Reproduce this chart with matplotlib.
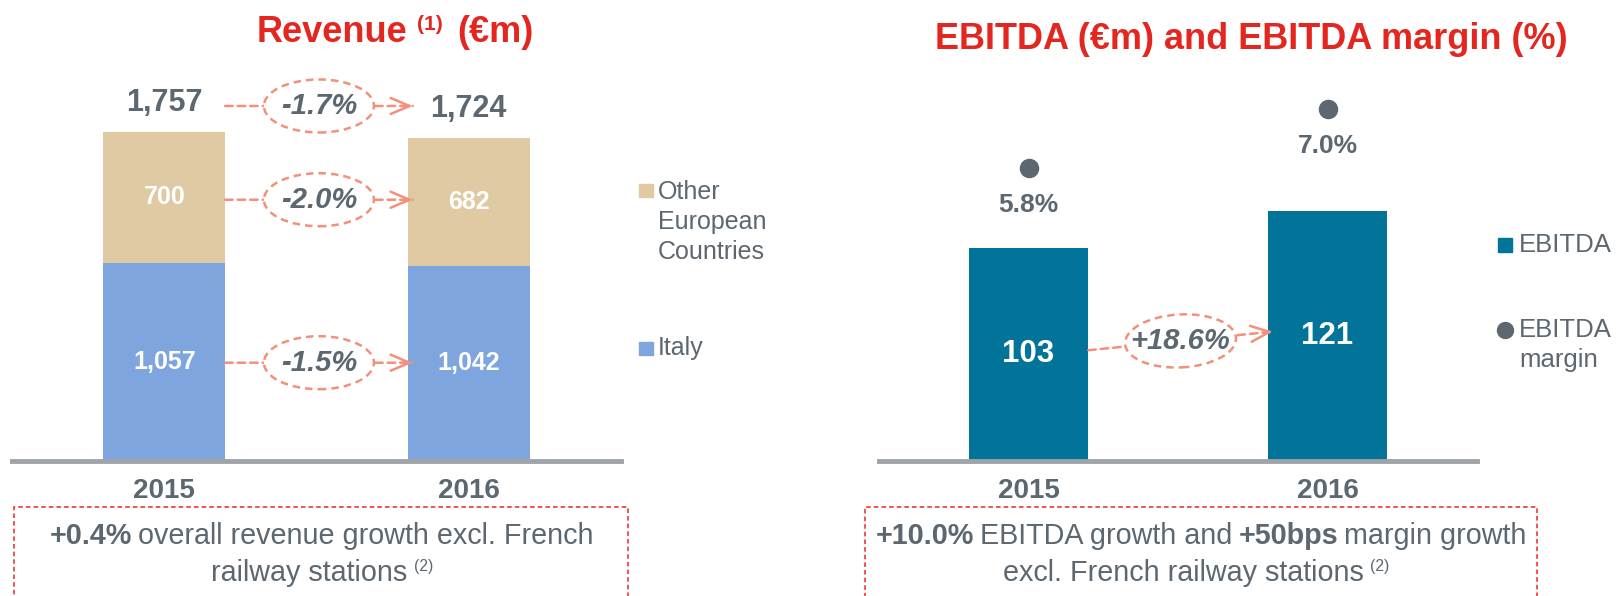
import matplotlib
matplotlib.use("Agg")
from matplotlib import pyplot as plt
from matplotlib.patches import Rectangle, Ellipse
from matplotlib.lines import Line2D
from matplotlib.transforms import ScaledTranslation

# datos
years = ["2015", "2016"]
italy = [1057, 1042]
other_eu = [700, 682]
revenue_total = [1757, 1724]
growth_total = "-1.7%"
growth_other = "-2.0%"
growth_italy = "-1.5%"
ebitda = [103, 121]
ebitda_margin = [5.8, 7.0]
growth_ebitda = "+18.6%"

W, H = 1617, 596

RED = "#E3261F"
GRAY = "#5C6770"
AXGRAY = "#A0A3A7"
BEIGE = "#DFCAA3"
BLUE = "#7EA5DE"
TEAL = "#037499"
SALMON = "#F3907A"
FONT = "Liberation Sans"


def px(x, y):
    return x / W, 1 - y / H


fig = plt.figure(figsize=(W / 100, H / 100), dpi=100)
renderer = fig.canvas.get_renderer()


def rich_line(runs, cx, base_y):
    # runs: (texto, kwargs, gap en px antes, subida en px)
    arts = []
    for s, kw, gap, rise in runs:
        t = fig.text(0, 0, s, va="baseline", ha="left", family=FONT, **kw)
        arts.append((t, gap, rise))
    total = sum(t.get_window_extent(renderer).width + g for t, g, _ in arts)
    x = cx - total / 2
    for t, gap, rise in arts:
        x += gap
        t.set_position(px(x, base_y - rise))
        x += t.get_window_extent(renderer).width


def style_axis(ax):
    for s in ["top", "left", "right"]:
        ax.spines[s].set_visible(False)
    ax.spines["bottom"].set_color(AXGRAY)
    ax.spines["bottom"].set_linewidth(3.5)
    ax.set_yticks([])
    ax.set_xlim(-0.5, 1.5)
    ax.set_xticks(range(len(years)), years)
    ax.tick_params(axis="x", length=0, pad=12)
    for lbl in ax.get_xticklabels():
        lbl.set_fontsize(20)
        lbl.set_fontweight("bold")
        lbl.set_color(GRAY)
        lbl.set_family(FONT)


def growth_arrow(ax, p1, p2, label, ew=110, eh=53, ang=0):
    dash = (0, (3, 2))
    ax.annotate("", xy=p2, xytext=p1,
                arrowprops=dict(arrowstyle="-", color=SALMON, lw=1.8, ls=dash,
                                shrinkA=0, shrinkB=0), zorder=4)
    t = 0.95
    pre = (p1[0] + (p2[0] - p1[0]) * t, p1[1] + (p2[1] - p1[1]) * t)
    ax.annotate("", xy=p2, xytext=pre,
                arrowprops=dict(arrowstyle="->,head_length=0.4,head_width=0.17",
                                color=SALMON, lw=1.8, mutation_scale=34,
                                shrinkA=0, shrinkB=0), zorder=4)
    cx = (p1[0] + p2[0]) / 2
    cy = (p1[1] + p2[1]) / 2
    e = Ellipse((0, 0), ew / 100, eh / 100, angle=ang,
                transform=fig.dpi_scale_trans + ScaledTranslation(cx, cy, ax.transData),
                fc="white", ec=SALMON, lw=1.8, ls=dash, zorder=5)
    ax.add_artist(e)
    ax.text(cx, cy, label, ha="center", va="center", fontsize=21,
            fontweight="bold", fontstyle="italic", color=GRAY, family=FONT, zorder=6)


# ---------------- Revenue ----------------
ax1 = fig.add_axes([12 / W, (H - 461) / H, 609 / W, 401 / H])
x = range(len(years))
ax1.bar(x, italy, width=0.4, color=BLUE)
ax1.bar(x, other_eu, width=0.4, bottom=italy, color=BEIGE)
ax1.set_ylim(0, 2141)
style_axis(ax1)

for i in x:
    ax1.text(i, italy[i] / 2, f"{italy[i]:,}", ha="center", va="center",
             fontsize=18, fontweight="bold", color="white", family=FONT)
    ax1.text(i, italy[i] + other_eu[i] / 2, f"{other_eu[i]:,}", ha="center",
             va="center", fontsize=18, fontweight="bold", color="white", family=FONT)
    ax1.text(i, revenue_total[i] + 155, f"{revenue_total[i]:,}", ha="center",
             va="center", fontsize=22, fontweight="bold", color=GRAY, family=FONT)

y_tot = sum(revenue_total) / 2 + 155
y_oth = sum(italy[i] + other_eu[i] / 2 for i in x) / 2
y_ita = sum(v / 2 for v in italy) / 2
for yy, lab in [(y_tot, growth_total), (y_oth, growth_other), (y_ita, growth_italy)]:
    growth_arrow(ax1, (0.2, yy), (0.816, yy), lab)

# leyenda izquierda
fig.add_artist(Rectangle(px(639, 197), 14 / W, 13 / H, color=BEIGE, transform=fig.transFigure))
fig.add_artist(Rectangle(px(639, 355), 14 / W, 13 / H, color=BLUE, transform=fig.transFigure))
for yy, s in [(192, "Other"), (222, "European"), (252, "Countries"), (348, "Italy")]:
    fig.text(*px(658, yy), s, ha="left", va="center", fontsize=18, color=GRAY, family=FONT)

# titulo izquierdo
rich_line([("Revenue", dict(fontsize=26, fontweight="bold", color=RED), 0, 0),
           ("(1)", dict(fontsize=15, fontweight="bold", color=RED), 10, 12),
           ("(€m)", dict(fontsize=26, fontweight="bold", color=RED), 14, 0)],
          395, 42)

# ---------------- EBITDA ----------------
ax2 = fig.add_axes([879 / W, (H - 461) / H, 598 / W, 401 / H])
ax2.bar(x, ebitda, width=0.4, color=TEAL)
ax2.set_ylim(0, 193.7)
style_axis(ax2)
for i in x:
    ax2.text(i, ebitda[i] / 2, f"{ebitda[i]}", ha="center", va="center",
             fontsize=22.5, fontweight="bold", color="white", family=FONT)

ax2m = ax2.twinx()
ax2m.set_ylim(-0.163, 7.987)
ax2m.axis("off")
ax2m.scatter(x, ebitda_margin, s=170, color=GRAY, zorder=3)
for i in x:
    ax2m.text(i, ebitda_margin[i] - 0.77, f"{ebitda_margin[i]:.1f}%", ha="center",
              va="center", fontsize=19, fontweight="bold", color=GRAY, family=FONT)

growth_arrow(ax2, (0.2, ebitda[0] / 2 + 2), (0.817, ebitda[1] / 2 + 2), growth_ebitda,
             ew=111, eh=53, ang=3)

# leyenda derecha
fig.add_artist(Rectangle(px(1498, 252), 14 / W, 14 / H, color=TEAL, transform=fig.transFigure))
fig.add_artist(Line2D([1505 / W], [1 - 330 / H], marker="o", markersize=11.5, color=GRAY,
                      transform=fig.transFigure))
for yy, s in [(245, "EBITDA"), (330, "EBITDA"), (360, "margin")]:
    fig.text(*px(1519, yy), s, ha="left", va="center", fontsize=18.5, color=GRAY, family=FONT)

fig.text(*px(1251, 49), "EBITDA (€m) and EBITDA margin (%)", ha="center", va="baseline",
         fontsize=26, fontweight="bold", color=RED, family=FONT)

# ---------------- cajas inferiores ----------------
for x0, x1 in [(14, 628), (865, 1537)]:
    fig.add_artist(Rectangle(px(x0, 610), (x1 - x0) / W, 103 / H, fill=False, ec="#E8272A",
                             lw=1.1, ls=(0, (3, 2)), transform=fig.transFigure))

bt = 20.7
bold = dict(fontsize=bt, fontweight="bold", color=GRAY)
reg = dict(fontsize=bt, color=GRAY)
sup = dict(fontsize=bt * 0.55, color=GRAY)

rich_line([("+0.4%", bold, 0, 0), ("overall revenue growth excl. French", reg, 6, 0)], 322, 544)
rich_line([("railway stations", reg, 0, 0), ("(2)", sup, 6, 10)], 322, 581)
rich_line([("+10.0%", bold, 0, 0), ("EBITDA growth and", reg, 6, 0), ("+50bps", bold, 6, 0),
           ("margin growth", reg, 6, 0)], 1201, 544)
rich_line([("excl. French railway stations", reg, 0, 0), ("(2)", sup, 6, 10)], 1196, 581)

fig.savefig("out.png", dpi=100)
